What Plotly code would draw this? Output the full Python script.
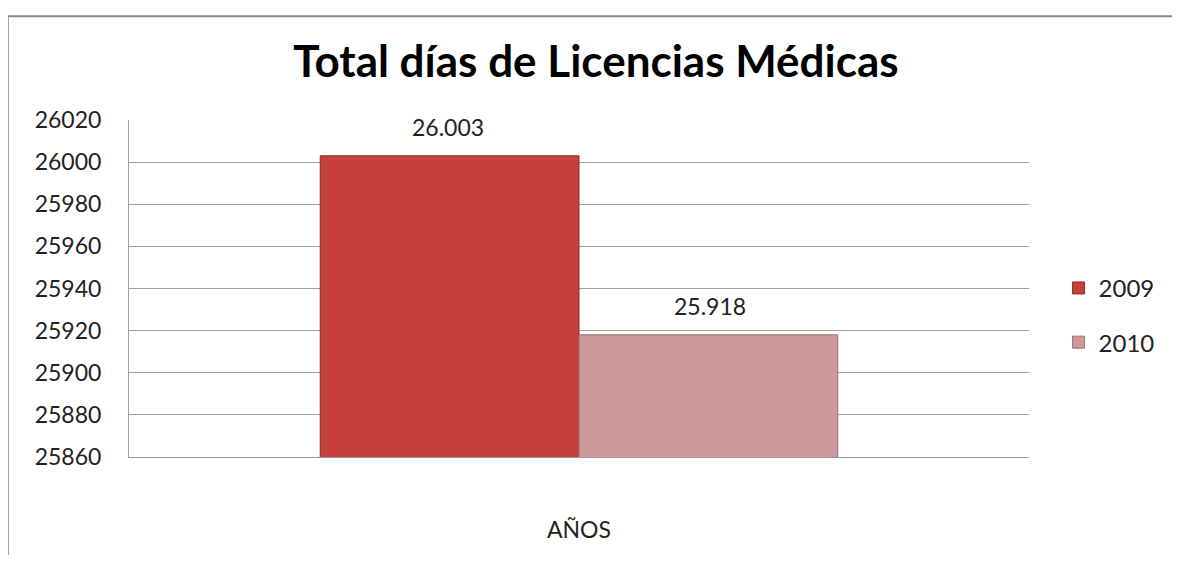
import plotly.graph_objects as go

categories = ["AÑOS"]
series_names = ["2009", "2010"]
values_2009 = [26003]
values_2010 = [25918]
colors = ["#C53F3C", "#D09999"]
line_colors = ["#8E2A28", "#9A7272"]
y_ticks = [25860, 25880, 25900, 25920, 25940, 25960, 25980, 26000, 26020]

FONT = "Lato"

# page body has an 8px margin; size the figure to fit inside the window
OFF = 8
W, H = 1180 - 2 * OFF, 563 - 2 * OFF
ml, mr, mt, mb = 129 - OFF, 1180 - 1042 - OFF, 120 - OFF, 563 - 484 - OFF
pw, ph = W - ml - mr, H - mt - mb
BARGAP = 0.425


def px_x(p):
    return (p - OFF - ml) / pw


def px_y(p):
    return (H - mb - (p - OFF)) / ph


fig = go.Figure()
all_vals = [values_2009, values_2010]
for i, (name, vals) in enumerate(zip(series_names, all_vals)):
    fig.add_trace(go.Bar(
        x=categories, y=vals, name=name,
        marker=dict(color=colors[i], line=dict(color=line_colors[i], width=1)),
        legendgroup=name,
    ))

bar_px = pw * (1 - BARGAP) / 2
annotations = []
for i, vals in enumerate(all_vals):
    for c, v in zip(categories, vals):
        annotations.append(dict(
            x=c, y=v, xref="x", yref="y",
            text=f"{v:,}".replace(",", "."),
            showarrow=False, yanchor="bottom",
            xshift=(i - 0.5) * bar_px, yshift=13,
            font=dict(family=FONT, size=23, color="#222"),
        ))

fig.update_layout(
    width=W, height=H,
    margin=dict(l=ml, r=mr, t=mt, b=mb),
    paper_bgcolor="white", plot_bgcolor="white",
    barmode="group", bargap=BARGAP, bargroupgap=0,
    title=dict(text="<b>Total días de Licencias Médicas</b>", x=(596 - OFF) / W, xanchor="center",
               y=1 - (62 - OFF) / H, yanchor="middle",
               font=dict(family=FONT, size=44, color="black")),
    font=dict(family=FONT, color="#222"),
    showlegend=True,
    legend=dict(x=px_x(1072), xanchor="left", y=px_y(331), yanchor="middle",
                font=dict(family=FONT, size=24, color="#222"),
                tracegroupgap=20, itemwidth=30, bgcolor="rgba(0,0,0,0)"),
    xaxis=dict(showgrid=False, showline=True, linecolor="#999", linewidth=1,
               ticks="", tickfont=dict(family=FONT, size=23, color="#222"),
               ticklabelstandoff=52),
    yaxis=dict(range=[25860, 26020], tickvals=y_ticks, tickformat="d",
               showgrid=True, gridcolor="#A0A0A0", gridwidth=1,
               showline=True, linecolor="#A0A0A0", linewidth=1,
               ticks="", tickfont=dict(family=FONT, size=23, color="#222"),
               ticklabelstandoff=22, zeroline=False),
    annotations=annotations,
    shapes=[dict(type="rect", xref="paper", yref="paper",
                 x0=px_x(6), x1=px_x(1200), y0=px_y(600), y1=px_y(8),
                 line=dict(color="#888888", width=2), fillcolor="rgba(0,0,0,0)",
                 layer="below")],
)

fig.write_html("out.html")
